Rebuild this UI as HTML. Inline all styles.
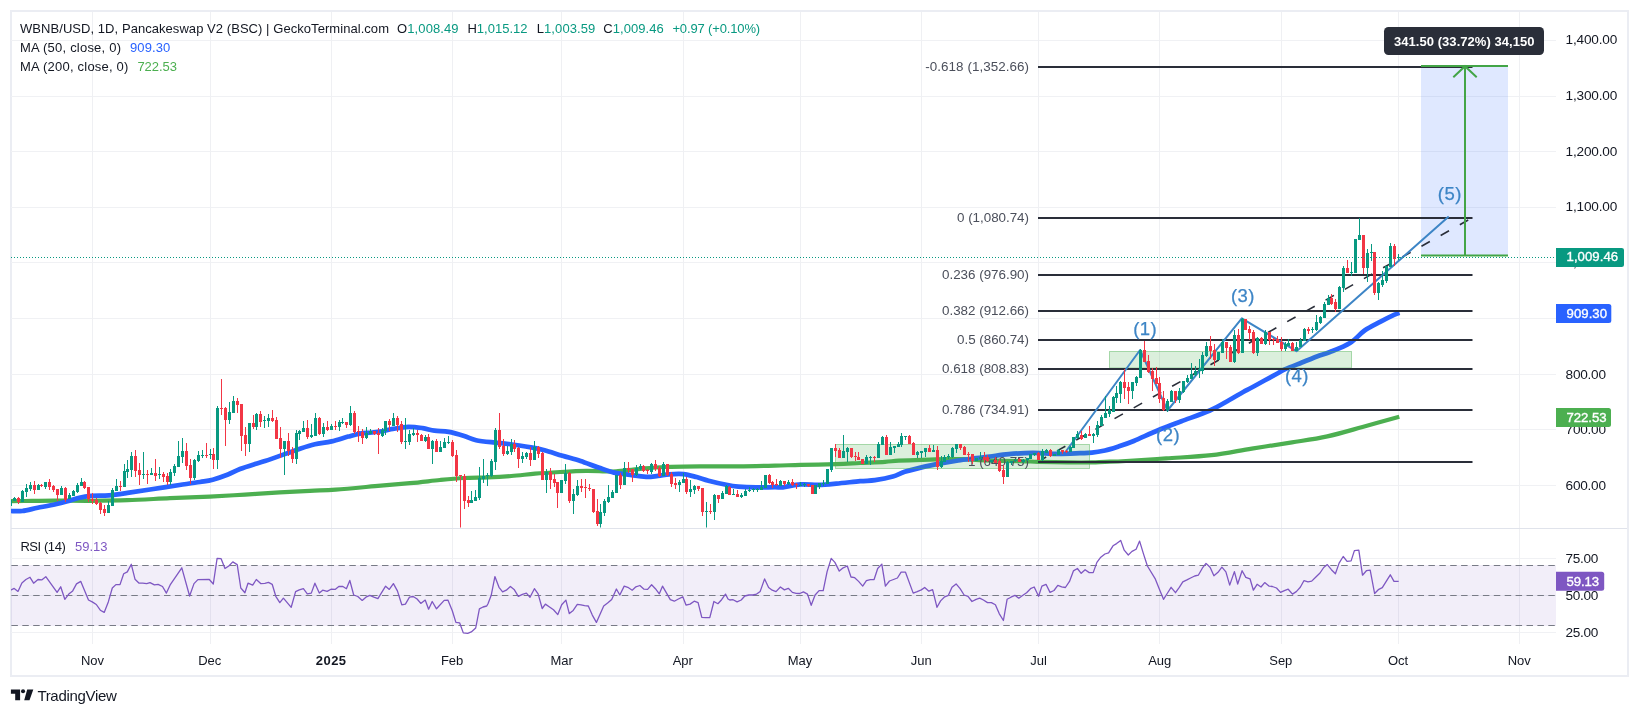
<!DOCTYPE html>
<html><head><meta charset="utf-8"><title>WBNB/USD</title>
<style>html,body{margin:0;padding:0;background:#fff}svg{will-change:transform}body{width:1639px;height:715px;overflow:hidden;font-family:'Liberation Sans', sans-serif}</style>
</head><body>
<svg width="1639" height="715" viewBox="0 0 1639 715" style="display:block;font-family:'Liberation Sans', sans-serif">
<rect width="1639" height="715" fill="#fff"/>
<rect x="11" y="11" width="1617" height="665" fill="none" stroke="#ebedf3" stroke-width="2"/>
<path d="M11 485.5H1556M11 429.5H1556M11 374.5H1556M11 318.5H1556M11 262.5H1556M11 207.5H1556M11 151.5H1556M11 96.5H1556M11 40.5H1556" stroke="#f0f1f4" stroke-width="1" fill="none"/>
<path d="M11 558.5H1556M11 595.5H1556M11 632.5H1556" stroke="#f0f1f4" stroke-width="1" fill="none"/>
<path d="M92.5 12V644M210.5 12V644M331.5 12V644M452.5 12V644M561.5 12V644M683.5 12V644M800.5 12V644M921.5 12V644M1038.5 12V644M1159.5 12V644M1281.5 12V644M1398.5 12V644M1519.5 12V644" stroke="#eff0f3" stroke-width="1" fill="none"/>
<clipPath id="rp"><rect x="11" y="528.5" width="1545" height="115.5"/></clipPath>
<g clip-path="url(#rp)">
<rect x="11" y="565" width="1545" height="61" fill="#7e57c2" fill-opacity="0.1"/>
<path d="M11.4 565.5H1556" stroke="#787b86" stroke-width="1" stroke-dasharray="6.5 4.4" fill="none"/>
<path d="M11.4 595.5H1556" stroke="#787b86" stroke-width="1" stroke-dasharray="6.5 4.4" fill="none"/>
<path d="M11.4 625.5H1556" stroke="#787b86" stroke-width="1" stroke-dasharray="6.5 4.4" fill="none"/>
<path d="M8.0 590.5 L11.2 589.9 L14.2 588.4 L18.0 591.4 L21.9 582.9 L25.9 579.5 L30.0 577.3 L33.6 583.2 L38.0 579.5 L41.7 579.9 L45.8 576.7 L57.1 592.4 L60.7 586.8 L64.8 599.3 L68.8 594.1 L72.7 590.9 L76.5 583.9 L80.8 581.4 L88.5 600.0 L92.2 601.9 L96.3 604.5 L100.3 610.2 L104.2 612.4 L108.3 601.9 L112.3 588.0 L115.9 584.6 L120.0 584.6 L123.7 573.8 L127.3 571.9 L131.3 564.3 L135.0 579.2 L139.1 583.2 L142.7 583.2 L146.7 583.6 L150.0 582.6 L154.4 584.8 L158.1 584.3 L162.5 586.5 L166.4 593.1 L170.5 584.3 L181.8 567.8 L189.6 596.0 L194.0 583.6 L197.9 579.6 L209.3 579.5 L213.3 584.0 L217.1 558.4 L221.1 558.7 L225.0 568.5 L228.8 566.0 L232.8 561.9 L237.2 564.6 L240.8 588.0 L244.9 592.7 L248.0 583.2 L252.7 585.1 L256.3 579.5 L260.7 583.6 L264.8 583.3 L268.5 582.4 L272.2 584.3 L275.8 596.3 L279.8 602.6 L283.4 598.2 L291.2 607.3 L295.6 591.6 L299.3 589.9 L303.4 588.7 L307.3 593.8 L311.3 593.1 L314.9 583.2 L319.3 593.1 L322.7 590.2 L327.1 591.4 L331.0 589.2 L335.1 589.4 L338.8 586.5 L342.9 586.5 L346.4 588.7 L349.8 580.4 L353.7 595.0 L357.8 596.5 L362.2 600.4 L365.9 597.2 L369.8 595.3 L373.9 597.2 L377.9 598.7 L385.6 586.2 L389.3 589.4 L393.4 583.6 L397.4 590.9 L401.8 604.8 L405.4 604.1 L409.5 597.2 L413.2 596.5 L417.1 599.0 L420.8 603.4 L425.2 600.1 L428.6 609.2 L432.2 601.5 L436.5 608.8 L444.2 600.4 L447.9 600.1 L452.3 610.7 L455.9 622.4 L459.6 622.8 L463.3 632.9 L467.7 633.4 L471.3 631.9 L475.7 628.0 L479.4 608.8 L483.0 607.0 L486.7 606.0 L488.0 603.7 L491.2 595.3 L494.9 576.6 L499.0 587.3 L502.6 591.9 L506.3 590.2 L510.4 586.5 L514.1 589.4 L518.3 596.3 L522.4 594.3 L526.4 593.1 L530.0 597.2 L534.4 588.7 L538.1 593.8 L542.2 608.5 L545.4 604.1 L549.5 607.0 L553.5 609.7 L557.8 614.6 L561.7 604.8 L565.9 600.1 L569.3 613.6 L573.2 610.4 L577.3 604.4 L581.0 604.8 L584.6 605.6 L588.3 606.0 L592.3 615.1 L596.4 622.4 L603.7 606.0 L607.6 603.1 L611.7 599.4 L616.4 589.0 L619.8 595.0 L624.2 586.1 L627.8 587.3 L632.2 590.2 L635.9 586.8 L639.9 585.5 L644.0 589.2 L647.6 589.4 L651.6 584.8 L655.4 588.7 L659.3 593.8 L662.5 586.2 L670.3 599.7 L674.3 601.2 L678.4 599.0 L682.8 596.8 L686.0 605.1 L690.1 604.1 L694.2 601.2 L698.1 602.6 L701.8 617.3 L705.7 617.7 L709.8 617.7 L713.9 601.5 L717.9 603.7 L721.6 599.7 L725.5 594.1 L728.0 599.0 L729.8 600.0 L733.1 599.7 L737.1 601.9 L741.2 600.0 L744.8 596.0 L748.9 595.0 L752.9 595.0 L756.6 594.1 L760.2 591.4 L764.6 578.9 L768.6 587.5 L772.2 590.2 L776.0 591.6 L780.4 587.0 L784.4 589.9 L788.3 588.3 L792.4 592.4 L796.1 593.4 L799.8 593.5 L803.4 591.9 L807.5 594.1 L811.2 605.3 L815.1 595.0 L819.1 590.6 L823.2 590.6 L827.1 571.6 L831.2 558.4 L834.9 562.4 L839.3 571.1 L843.2 567.8 L847.3 566.0 L851.0 577.0 L854.7 577.7 L858.6 581.4 L862.7 586.1 L866.4 580.7 L870.3 579.6 L874.1 579.5 L877.7 568.5 L881.8 564.1 L885.4 586.1 L889.5 581.0 L893.5 579.5 L897.4 578.0 L901.1 572.2 L905.5 572.2 L913.2 593.1 L917.2 591.6 L921.3 589.9 L924.7 587.5 L928.9 591.2 L932.6 589.7 L937.0 607.3 L940.6 600.9 L944.7 596.8 L948.4 595.3 L952.0 587.3 L956.1 583.9 L960.1 588.7 L964.1 595.0 L968.0 596.3 L972.0 601.5 L976.1 599.4 L979.7 598.2 L983.4 600.0 L987.5 602.6 L991.4 602.6 L995.4 604.8 L999.2 613.6 L1003.4 620.5 L1007.1 599.3 L1010.9 597.2 L1014.9 595.3 L1018.8 598.2 L1022.9 595.3 L1026.6 592.7 L1030.5 588.7 L1034.2 587.0 L1038.6 596.3 L1041.9 586.1 L1046.0 584.3 L1050.0 592.4 L1054.0 590.5 L1057.8 585.3 L1061.7 586.8 L1065.4 587.5 L1069.5 581.4 L1073.4 570.9 L1077.4 568.5 L1081.2 573.3 L1085.1 569.7 L1089.2 572.6 L1093.2 572.6 L1096.9 562.4 L1100.8 557.2 L1104.9 554.0 L1108.6 552.8 L1113.0 545.8 L1116.6 543.6 L1120.7 540.4 L1124.2 550.2 L1128.3 555.0 L1132.0 551.4 L1136.1 549.2 L1139.6 541.1 L1143.4 553.6 L1147.4 566.0 L1155.4 579.2 L1159.4 589.2 L1163.5 599.3 L1167.2 593.5 L1171.1 587.3 L1175.5 592.7 L1179.3 587.3 L1182.8 581.8 L1186.9 579.9 L1190.6 578.0 L1194.7 576.0 L1198.3 575.2 L1202.3 568.2 L1206.0 563.4 L1208.0 565.3 L1210.2 567.5 L1213.9 575.8 L1218.0 572.3 L1221.9 567.2 L1225.9 571.9 L1229.7 585.1 L1234.4 571.6 L1237.7 584.0 L1242.1 570.7 L1245.8 577.4 L1250.0 578.8 L1253.4 590.2 L1257.1 584.3 L1261.0 587.0 L1264.7 582.6 L1269.2 586.2 L1272.4 586.5 L1276.5 588.0 L1280.5 592.4 L1284.4 590.6 L1288.2 589.2 L1292.5 594.1 L1296.3 591.6 L1300.3 587.3 L1303.9 580.7 L1308.0 581.8 L1311.7 581.1 L1315.9 577.0 L1320.0 573.0 L1323.7 567.5 L1327.3 564.6 L1331.4 569.7 L1335.4 573.8 L1339.1 563.1 L1343.2 556.5 L1347.1 561.3 L1351.1 560.9 L1354.4 550.6 L1358.8 550.2 L1362.5 575.2 L1366.4 570.7 L1370.2 570.1 L1374.6 593.5 L1378.3 589.7 L1382.3 587.7 L1390.3 574.8 L1394.0 581.4 L1398.7 581.4" stroke="#7e57c2" stroke-width="1.3" fill="none" stroke-linejoin="round"/>
</g>
<clipPath id="mp"><rect x="11" y="12" width="1545" height="515.5"/></clipPath>
<g clip-path="url(#mp)">
<path d="M10.5 501.2C14.1 501.1 24.3 501.0 31.8 500.9C39.3 500.8 45.7 500.6 55.6 500.6C65.5 500.6 79.2 500.9 91.2 500.8C103.2 500.7 114.4 500.6 127.5 500.2C140.6 499.8 156.3 498.8 170 498.2C183.7 497.6 197.3 497.2 209.8 496.6C222.3 496.0 233.3 495.3 245 494.6C256.6 493.9 268.9 493.0 279.7 492.4C290.5 491.8 300.7 491.3 310 490.8C319.3 490.3 324.9 490.4 335.7 489.6C346.5 488.8 362.6 487.3 375 486.2C387.4 485.1 399.2 484.2 410 483.2C420.8 482.2 431.0 480.9 440 480C449.0 479.1 455.9 478.4 463.8 478C471.7 477.6 479.7 477.6 487.6 477.3C495.5 477.0 503.4 476.6 511.3 476C519.2 475.4 527.0 474.4 535.1 473.7C543.2 473.0 551.5 472.5 560 472C568.5 471.5 578.6 470.9 586.1 470.8C593.6 470.7 600.0 471.2 605 471.3C610.0 471.4 610.4 471.8 616.3 471.4C622.1 471.0 632.0 469.5 640.1 468.8C648.2 468.1 654.6 467.4 665 467C675.4 466.6 690.4 466.5 702.6 466.4C714.8 466.3 726.1 466.5 738.2 466.4C750.3 466.3 764.6 465.9 775 465.6C785.4 465.4 790.5 465.1 800.7 464.9C810.9 464.7 826.4 464.5 836.3 464.2C846.2 463.9 852.0 463.4 860.1 463C868.2 462.6 878.5 462.2 885 461.8C891.5 461.4 892.5 461.0 898.8 460.7C905.1 460.4 914.7 460.1 922.6 459.9C930.5 459.6 939.4 459.3 946.3 459.2C953.2 459.1 957.8 459.0 964.2 459.2C970.7 459.4 975.6 460.1 985 460.4C994.4 460.7 1011.8 461.0 1020.7 461.2C1029.6 461.4 1030.6 461.6 1038.5 461.8C1046.4 462.0 1059.3 462.3 1068.2 462.4C1077.1 462.5 1085.9 462.5 1092 462.4C1098.1 462.3 1099.3 462.0 1105 461.8C1110.7 461.6 1115.7 461.6 1125.9 461C1136.1 460.4 1151.9 459.4 1166.2 458.4C1180.5 457.4 1197.2 456.8 1211.5 455.2C1225.8 453.6 1238.4 450.7 1251.8 448.6C1265.2 446.5 1279.4 444.4 1292 442.4C1304.6 440.4 1315.5 439.0 1327.3 436.4C1339.0 433.8 1350.5 430.3 1362.5 427C1374.5 423.7 1393.2 418.5 1399.3 416.8" stroke="#4caf50" stroke-width="4.2" fill="none" stroke-linecap="butt" stroke-linejoin="round"/>
<path d="M10.5 511C12.5 511.0 17.8 511.5 22.3 511C26.8 510.5 32.2 508.9 37.7 507.8C43.2 506.7 50.6 505.3 55.6 504.2C60.6 503.1 63.5 502.3 67.5 501.2C71.5 500.1 75.3 498.6 79.3 497.7C83.2 496.8 86.2 496.3 91.2 495.9C96.2 495.5 103.0 495.8 109.1 495.3C115.1 494.8 120.7 493.9 127.5 492.9C134.3 491.9 141.3 490.8 150 489.5C158.7 488.2 171.2 486.2 179.5 485C187.8 483.8 194.5 482.9 200 482C205.5 481.1 208.0 480.9 212.7 479.7C217.4 478.4 223.4 476.3 228 474.5C232.6 472.7 235.5 470.8 240 469C244.5 467.2 250.8 465.3 255 464C259.2 462.7 260.8 462.4 265 461C269.2 459.6 274.6 457.7 280.5 455.6C286.4 453.5 295.0 450.4 300.7 448.5C306.4 446.6 309.8 445.5 314.9 444.3C320.0 443.1 326.1 442.7 331.6 441.4C337.2 440.1 343.4 437.9 348.2 436.6C352.9 435.3 356.1 434.3 360.1 433.6C364.1 432.9 367.9 433.0 372 432.5C376.1 432.0 381.5 431.3 385 430.7C388.5 430.1 388.9 429.5 392.8 428.9C396.7 428.3 403.3 427.0 408.3 426.9C413.3 426.8 418.2 427.5 422.6 428.1C427.0 428.7 430.1 430.1 434.5 430.7C438.9 431.3 443.8 431.0 448.7 431.9C453.6 432.8 459.6 434.6 464.2 436C468.8 437.4 471.0 439.1 476.1 440.2C481.2 441.3 489.6 442.0 495 442.6C500.4 443.2 502.5 443.2 508.8 444C515.1 444.8 526.6 446.6 532.6 447.6C538.6 448.7 539.5 448.9 544.5 450.3C549.5 451.7 556.5 454.0 562.5 455.8C568.5 457.6 574.5 459.0 580.5 461C586.5 463.0 592.9 465.7 598.5 467.6C604.1 469.5 609.0 471.4 614 472.6C619.0 473.8 622.9 474.0 628.2 474.7C633.6 475.4 641.1 476.7 646.1 476.9C651.1 477.1 654.1 476.3 658 475.9C661.9 475.5 665.0 474.6 669.3 474.3C673.5 474.0 679.0 473.6 683.5 474.1C688.0 474.6 692.4 476.0 696.6 477.1C700.8 478.2 703.5 479.4 708.5 480.7C713.5 482.0 721.3 483.8 726.3 484.8C731.2 485.8 733.2 486.2 738.2 486.6C743.2 487.0 750.0 487.3 756.1 487.4C762.2 487.5 770.5 487.2 775 487.2C779.5 487.2 778.5 487.8 782.8 487.3C787.1 486.8 794.8 484.8 800.7 484.4C806.7 484.0 812.6 484.9 818.5 484.8C824.4 484.7 829.4 484.2 836.3 483.6C843.2 483.0 853.6 481.8 860.1 481.2C866.6 480.6 869.5 481.0 875 480.2C880.5 479.4 887.8 478.0 892.8 476.6C897.8 475.2 899.7 473.4 904.7 471.8C909.7 470.2 916.7 468.5 922.6 467.1C928.5 465.7 934.5 464.6 940.4 463.5C946.3 462.4 952.2 461.4 958.2 460.5C964.2 459.6 970.8 458.9 976.1 458.2C981.4 457.5 984.5 457.2 990 456.5C995.5 455.8 1001.7 454.7 1008.8 454.1C1015.9 453.5 1024.7 452.9 1032.6 452.9C1040.5 452.8 1048.4 453.8 1056.3 453.8C1064.2 453.9 1074.1 453.4 1080.1 453.2C1086.0 453.0 1087.8 453.1 1092 452.6C1096.2 452.2 1100.8 451.4 1105 450.5C1109.2 449.6 1112.3 448.6 1117.1 447C1121.9 445.4 1127.0 443.8 1133.8 441C1140.5 438.2 1149.7 433.8 1157.6 430.5C1165.5 427.2 1172.7 424.6 1181.4 421.3C1190.1 418.0 1202.0 414.0 1209.9 410.5C1217.8 407.0 1223.4 403.4 1228.9 400.3C1234.5 397.2 1239.2 394.2 1243.2 392C1247.2 389.8 1247.2 390.0 1252.7 387C1258.2 384.0 1271.2 376.9 1276.5 374C1281.8 371.1 1280.8 371.2 1284.8 369.4C1288.8 367.6 1294.9 365.3 1300.3 363.2C1305.7 361.1 1312.0 358.4 1316.9 356.5C1321.9 354.6 1324.5 354.2 1330 352C1335.5 349.8 1344.2 346.6 1350 343C1355.8 339.4 1359.5 334.1 1364.6 330.5C1369.7 326.9 1375.7 324.2 1380.6 321.6C1385.5 319.0 1390.8 316.4 1394 314.9C1397.2 313.4 1398.6 313.1 1399.5 312.8" stroke="#2962ff" stroke-width="4.7" fill="none" stroke-linecap="butt" stroke-linejoin="round"/>
<rect x="835.5" y="444.5" width="254" height="24" fill="#4caf50" fill-opacity="0.2" stroke="#4caf50" stroke-opacity="0.45" stroke-width="1"/>
<rect x="1109.5" y="351.5" width="242" height="16.5" fill="#4caf50" fill-opacity="0.2" stroke="#4caf50" stroke-opacity="0.45" stroke-width="1"/>
<rect x="1421" y="65" width="87" height="191" fill="#2962ff" fill-opacity="0.15"/>
<path d="M1038 67.0H1472.5" stroke="#2a2e39" stroke-width="2" fill="none"/>
<text x="1029" y="70.7" font-size="13.4" fill="#4b4f5b" text-anchor="end" textLength="103.7" lengthAdjust="spacing">-0.618 (1,352.66)</text>
<path d="M1038 218.0H1472.5" stroke="#2a2e39" stroke-width="2" fill="none"/>
<text x="1029" y="221.7" font-size="13.4" fill="#4b4f5b" text-anchor="end" textLength="72" lengthAdjust="spacing">0 (1,080.74)</text>
<path d="M1038 275.0H1472.5" stroke="#2a2e39" stroke-width="2" fill="none"/>
<text x="1029" y="278.7" font-size="13.4" fill="#4b4f5b" text-anchor="end" textLength="87" lengthAdjust="spacing">0.236 (976.90)</text>
<path d="M1038 311.0H1472.5" stroke="#2a2e39" stroke-width="2" fill="none"/>
<text x="1029" y="314.7" font-size="13.4" fill="#4b4f5b" text-anchor="end" textLength="87" lengthAdjust="spacing">0.382 (912.66)</text>
<path d="M1038 340.0H1472.5" stroke="#2a2e39" stroke-width="2" fill="none"/>
<text x="1029" y="343.7" font-size="13.4" fill="#4b4f5b" text-anchor="end" textLength="72" lengthAdjust="spacing">0.5 (860.74)</text>
<path d="M1038 369.0H1472.5" stroke="#2a2e39" stroke-width="2" fill="none"/>
<text x="1029" y="372.7" font-size="13.4" fill="#4b4f5b" text-anchor="end" textLength="87" lengthAdjust="spacing">0.618 (808.83)</text>
<path d="M1038 410.0H1472.5" stroke="#2a2e39" stroke-width="2" fill="none"/>
<text x="1029" y="413.7" font-size="13.4" fill="#4b4f5b" text-anchor="end" textLength="87" lengthAdjust="spacing">0.786 (734.91)</text>
<path d="M1038 462.0H1472.5" stroke="#2a2e39" stroke-width="2" fill="none"/>
<text x="1029" y="465.7" font-size="13.4" fill="#4b4f5b" text-anchor="end" textLength="61" lengthAdjust="spacing">1 (640.75)</text>
<path d="M1043.3 458.6L1469.5 219.3" stroke="#2a2e39" stroke-width="1.6" stroke-dasharray="9.6 12.4" stroke-dashoffset="6.3" fill="none"/>
<path d="M1065.8 451.5L1140.1 350L1167.5 410.5L1241.8 318.3L1296.5 351.2L1448.7 216.6" stroke="#3d85c6" stroke-width="2" fill="none" stroke-linejoin="round"/>
<path d="M1421 66H1508M1421 255.4H1508" stroke="#43a547" stroke-width="2" fill="none"/>
<path d="M1465 255V66.5M1453.3 77.3L1465 66.2L1476.7 77.3" stroke="#43a547" stroke-width="2" fill="none"/>
<path d="M10.5 500V507M14.5 497V501M22.5 490V502M26.5 484V497M30.5 482V491M38.5 484V490M45.5 482V489M61.5 486V495M69.5 493V499M73.5 490V496M77.5 483V493M81.5 478V486M108.5 501V513M112.5 488V506M116.5 479V491M124.5 464V487M127.5 460V478M131.5 452V477M143.5 452V479M151.5 468V475M159.5 467V479M170.5 469V485M174.5 464V476M178.5 441V467M182.5 438V463M194.5 459V480M198.5 451V462M202.5 450V458M210.5 449V459M217.5 406V469M229.5 402V424M233.5 396V413M249.5 423V452M256.5 413V430M264.5 416V428M268.5 414V427M284.5 441V475M296.5 430V464M299.5 430V440M303.5 421V432M311.5 424V438M315.5 413V436M323.5 423V437M331.5 424V430M339.5 420V431M342.5 418V424M350.5 406V426M366.5 427V439M370.5 429V434M382.5 428V437M385.5 421V435M393.5 413V426M405.5 418V449M409.5 430V445M413.5 428V436M425.5 435V442M432.5 440V464M440.5 441V452M444.5 438V448M448.5 436V444M471.5 491V503M475.5 490V501M479.5 467V500M483.5 459V483M487.5 473V486M491.5 459V477M495.5 428V470M507.5 446V455M511.5 439V455M522.5 452V463M526.5 452V459M534.5 441V460M546.5 469V493M561.5 480V493M565.5 464V484M573.5 489V514M577.5 480V496M600.5 504V528M604.5 499V516M608.5 485V503M612.5 490V498M616.5 475V493M624.5 462V485M636.5 465V476M640.5 464V470M651.5 463V474M663.5 462V476M679.5 480V492M683.5 473V483M690.5 480V497M694.5 485V494M706.5 502V528M714.5 494V520M722.5 491V499M726.5 485V494M733.5 489V495M741.5 493V498M745.5 489V496M749.5 487V492M753.5 488V492M757.5 488V492M761.5 481V490M765.5 475V488M780.5 480V486M788.5 480V485M800.5 482V486M804.5 483V487M815.5 485V494M819.5 483V489M823.5 480V486M827.5 469V484M831.5 448V472M843.5 435V458M847.5 447V462M866.5 455V464M870.5 456V465M878.5 442V458M882.5 436V445M890.5 442V455M894.5 446V453M898.5 442V447M901.5 433V447M905.5 436V440M917.5 451V458M921.5 451V458M925.5 448V457M933.5 445V452M941.5 456V468M944.5 455V462M948.5 454V459M952.5 447V458M956.5 444V453M976.5 458V461M980.5 452V459M991.5 460V463M1007.5 461V477M1011.5 461V465M1015.5 459V462M1023.5 459V463M1027.5 458V461M1030.5 454V459M1034.5 453V456M1042.5 449V461M1046.5 449V453M1054.5 454V456M1058.5 449V455M1070.5 446V452M1073.5 437V448M1077.5 431V439M1085.5 433V438M1093.5 433V443M1097.5 421V437M1101.5 415V426M1105.5 396V418M1109.5 406V417M1113.5 396V412M1116.5 386V403M1120.5 381V403M1132.5 382V399M1136.5 376V386M1140.5 349V378M1167.5 399V412M1171.5 390V402M1179.5 388V403M1183.5 381V393M1187.5 375V383M1191.5 363V379M1195.5 366V376M1199.5 359V378M1202.5 352V374M1206.5 342V357M1218.5 352V360M1222.5 339V353M1234.5 330V363M1242.5 318V353M1257.5 337V356M1265.5 330V345M1285.5 342V351M1288.5 339V346M1296.5 342V351M1300.5 338V347M1304.5 328V341M1312.5 327V333M1316.5 315V331M1320.5 316V324M1324.5 302V318M1328.5 295V305M1339.5 286V309M1343.5 266V292M1351.5 262V276M1355.5 239V273M1359.5 218V240M1367.5 249V282M1371.5 244V261M1378.5 282V300M1382.5 271V287M1386.5 266V283M1390.5 243V267M1398.5 254V260" stroke="#089981" stroke-width="1" fill="none" shape-rendering="crispEdges"/>
<path d="M18.5 497V504M34.5 481V494M41.5 484V487M49.5 479V490M53.5 485V492M57.5 489V501M65.5 487V502M84.5 481V489M88.5 487V502M92.5 493V504M96.5 498V505M100.5 502V514M104.5 505V516M120.5 481V491M135.5 450V477M139.5 463V485M147.5 470V484M155.5 459V481M163.5 472V482M167.5 473V485M186.5 443V470M190.5 459V484M206.5 443V458M213.5 448V469M221.5 379V415M225.5 407V446M237.5 398V413M241.5 404V451M245.5 427V456M253.5 415V429M260.5 411V427M272.5 410V422M276.5 417V439M280.5 427V458M288.5 433V456M292.5 447V463M307.5 420V439M319.5 417V435M327.5 421V431M335.5 421V430M346.5 422V428M354.5 411V434M358.5 426V442M362.5 429V444M374.5 431V435M378.5 428V454M389.5 419V431M397.5 416V432M401.5 421V444M417.5 430V442M421.5 434V441M428.5 434V449M436.5 439V452M452.5 440V457M456.5 450V482M460.5 475V528M464.5 474V509M468.5 496V507M499.5 413V449M503.5 439V456M514.5 440V452M518.5 447V468M530.5 447V466M538.5 446V458M542.5 452V480M550.5 468V489M554.5 474V487M557.5 482V508M569.5 472V503M581.5 479V492M585.5 479V498M589.5 484V491M593.5 489V513M597.5 499V526M620.5 473V489M628.5 462V473M632.5 469V482M643.5 465V472M647.5 469V474M655.5 460V471M659.5 466V477M667.5 464V476M671.5 472V487M675.5 478V489M686.5 477V494M698.5 486V491M702.5 488V516M710.5 504V514M718.5 495V503M729.5 486V495M737.5 490V497M769.5 474V484M772.5 481V488M776.5 479V486M784.5 481V486M792.5 479V486M796.5 483V489M808.5 484V487M812.5 485V494M835.5 444V457M839.5 448V458M851.5 448V458M855.5 452V461M858.5 452V460M862.5 459V464M874.5 456V462M886.5 435V455M909.5 435V444M913.5 442V455M929.5 445V452M937.5 446V470M960.5 444V450M964.5 446V455M968.5 452V462M972.5 454V464M984.5 452V463M987.5 455V462M995.5 457V463M999.5 459V472M1003.5 465V484M1019.5 458V462M1038.5 452V460M1050.5 449V457M1062.5 450V454M1066.5 450V453M1081.5 431V440M1089.5 426V436M1124.5 369V399M1128.5 382V404M1144.5 341V362M1148.5 355V373M1152.5 368V391M1156.5 367V384M1159.5 377V403M1163.5 391V411M1175.5 391V403M1210.5 336V359M1214.5 344V366M1226.5 342V359M1230.5 345V362M1238.5 329V354M1245.5 319V330M1249.5 326V340M1253.5 330V354M1261.5 337V344M1269.5 332V345M1273.5 338V345M1277.5 336V343M1281.5 337V351M1292.5 342V351M1308.5 327V334M1331.5 294V305M1335.5 299V312M1347.5 260V273M1363.5 235V274M1374.5 252V295M1394.5 244V266" stroke="#f23645" stroke-width="1" fill="none" shape-rendering="crispEdges"/>
<path d="M9 500h3v6h-3zM13 498h3v3h-3zM21 491h3v11h-3zM25 488h3v4h-3zM29 485h3v4h-3zM37 485h3v5h-3zM44 482h3v5h-3zM60 488h3v7h-3zM68 495h3v4h-3zM72 491h3v5h-3zM76 485h3v7h-3zM80 482h3v4h-3zM107 505h3v8h-3zM111 490h3v16h-3zM115 486h3v5h-3zM123 471h3v16h-3zM126 469h3v3h-3zM130 456h3v14h-3zM142 474h3v1h-3zM150 473h3v2h-3zM158 474h3v1h-3zM169 472h3v10h-3zM173 466h3v7h-3zM177 456h3v11h-3zM181 451h3v6h-3zM193 460h3v18h-3zM197 455h3v6h-3zM201 455h3v1h-3zM209 454h3v1h-3zM216 408h3v52h-3zM228 412h3v8h-3zM232 401h3v12h-3zM248 423h3v21h-3zM255 414h3v13h-3zM263 420h3v1h-3zM267 418h3v3h-3zM283 441h3v8h-3zM295 433h3v26h-3zM298 431h3v3h-3zM302 428h3v4h-3zM310 435h3v2h-3zM314 418h3v18h-3zM322 427h3v7h-3zM330 426h3v4h-3zM338 422h3v5h-3zM341 422h3v1h-3zM349 413h3v12h-3zM365 433h3v5h-3zM369 431h3v3h-3zM381 430h3v6h-3zM384 421h3v10h-3zM392 418h3v8h-3zM404 441h3v1h-3zM408 434h3v8h-3zM412 433h3v2h-3zM424 437h3v4h-3zM431 441h3v8h-3zM439 447h3v5h-3zM443 442h3v6h-3zM447 442h3v1h-3zM470 500h3v3h-3zM474 497h3v4h-3zM478 478h3v20h-3zM482 476h3v3h-3zM486 475h3v1h-3zM490 461h3v15h-3zM494 430h3v32h-3zM506 451h3v3h-3zM510 444h3v8h-3zM521 456h3v3h-3zM525 453h3v4h-3zM533 447h3v13h-3zM545 472h3v8h-3zM560 480h3v13h-3zM564 473h3v8h-3zM572 494h3v7h-3zM576 486h3v9h-3zM599 512h3v12h-3zM603 501h3v12h-3zM607 497h3v5h-3zM611 492h3v6h-3zM615 475h3v18h-3zM623 468h3v17h-3zM635 468h3v7h-3zM639 466h3v3h-3zM650 464h3v8h-3zM662 464h3v12h-3zM678 482h3v3h-3zM682 479h3v4h-3zM689 489h3v3h-3zM693 486h3v4h-3zM705 511h3v1h-3zM713 495h3v17h-3zM721 493h3v6h-3zM725 486h3v8h-3zM732 494h3v1h-3zM740 495h3v2h-3zM744 491h3v5h-3zM748 490h3v1h-3zM752 489h3v1h-3zM756 489h3v1h-3zM760 487h3v3h-3zM764 475h3v13h-3zM779 481h3v5h-3zM787 482h3v2h-3zM799 485h3v1h-3zM803 484h3v1h-3zM814 485h3v9h-3zM818 483h3v4h-3zM822 483h3v1h-3zM826 469h3v15h-3zM830 448h3v22h-3zM842 451h3v7h-3zM846 448h3v4h-3zM865 457h3v7h-3zM869 457h3v1h-3zM877 444h3v14h-3zM881 437h3v8h-3zM889 447h3v8h-3zM893 446h3v2h-3zM897 444h3v3h-3zM900 436h3v9h-3zM904 436h3v1h-3zM916 452h3v3h-3zM920 451h3v2h-3zM924 448h3v4h-3zM932 450h3v2h-3zM940 461h3v6h-3zM943 457h3v5h-3zM947 456h3v1h-3zM951 448h3v9h-3zM955 444h3v5h-3zM975 458h3v3h-3zM979 457h3v2h-3zM990 460h3v2h-3zM1006 462h3v15h-3zM1010 461h3v2h-3zM1014 460h3v1h-3zM1022 460h3v2h-3zM1026 458h3v2h-3zM1029 454h3v5h-3zM1033 453h3v2h-3zM1041 451h3v9h-3zM1045 450h3v3h-3zM1053 454h3v2h-3zM1057 450h3v5h-3zM1069 447h3v5h-3zM1072 437h3v11h-3zM1076 434h3v4h-3zM1084 434h3v4h-3zM1092 434h3v2h-3zM1096 425h3v10h-3zM1100 417h3v9h-3zM1104 413h3v5h-3zM1108 410h3v4h-3zM1112 397h3v15h-3zM1115 393h3v5h-3zM1119 382h3v12h-3zM1131 382h3v9h-3zM1135 377h3v6h-3zM1139 350h3v28h-3zM1166 401h3v9h-3zM1170 391h3v11h-3zM1178 391h3v9h-3zM1182 381h3v11h-3zM1186 378h3v4h-3zM1190 374h3v5h-3zM1194 371h3v4h-3zM1198 369h3v2h-3zM1201 355h3v16h-3zM1205 346h3v10h-3zM1217 352h3v8h-3zM1221 342h3v11h-3zM1233 335h3v27h-3zM1241 319h3v34h-3zM1256 338h3v15h-3zM1264 332h3v12h-3zM1284 344h3v5h-3zM1287 343h3v3h-3zM1295 347h3v4h-3zM1299 340h3v7h-3zM1303 329h3v12h-3zM1311 329h3v1h-3zM1315 322h3v8h-3zM1319 317h3v6h-3zM1323 304h3v14h-3zM1327 298h3v7h-3zM1338 287h3v22h-3zM1342 268h3v20h-3zM1350 272h3v1h-3zM1354 239h3v34h-3zM1358 235h3v5h-3zM1366 253h3v15h-3zM1370 252h3v1h-3zM1377 283h3v10h-3zM1381 280h3v5h-3zM1385 266h3v15h-3zM1389 246h3v21h-3zM1397 257h3v1h-3z" fill="#089981" shape-rendering="crispEdges"/>
<path d="M17 498h3v4h-3zM33 485h3v5h-3zM40 485h3v1h-3zM48 482h3v5h-3zM52 486h3v4h-3zM56 489h3v6h-3zM64 488h3v12h-3zM83 482h3v6h-3zM87 487h3v12h-3zM91 499h3v2h-3zM95 500h3v4h-3zM99 503h3v7h-3zM103 509h3v4h-3zM119 486h3v1h-3zM134 456h3v15h-3zM138 470h3v5h-3zM146 474h3v1h-3zM154 473h3v3h-3zM162 474h3v3h-3zM166 476h3v6h-3zM185 451h3v15h-3zM189 465h3v13h-3zM205 455h3v1h-3zM212 454h3v6h-3zM220 408h3v1h-3zM224 408h3v12h-3zM236 401h3v4h-3zM240 404h3v32h-3zM244 435h3v9h-3zM252 423h3v4h-3zM259 414h3v8h-3zM271 418h3v3h-3zM275 420h3v19h-3zM279 438h3v11h-3zM287 441h3v10h-3zM291 450h3v9h-3zM306 428h3v9h-3zM318 418h3v16h-3zM326 427h3v3h-3zM334 426h3v1h-3zM345 422h3v3h-3zM353 413h3v19h-3zM357 431h3v1h-3zM361 432h3v6h-3zM373 431h3v3h-3zM377 433h3v2h-3zM388 421h3v4h-3zM396 418h3v7h-3zM400 424h3v18h-3zM416 433h3v2h-3zM420 435h3v6h-3zM427 437h3v12h-3zM435 441h3v11h-3zM451 442h3v14h-3zM455 455h3v21h-3zM459 475h3v1h-3zM463 476h3v25h-3zM467 500h3v3h-3zM498 430h3v17h-3zM502 446h3v8h-3zM513 444h3v5h-3zM517 448h3v11h-3zM529 453h3v7h-3zM537 447h3v7h-3zM541 453h3v27h-3zM549 472h3v8h-3zM553 479h3v4h-3zM556 482h3v11h-3zM568 473h3v28h-3zM580 486h3v2h-3zM584 487h3v1h-3zM588 488h3v1h-3zM592 489h3v23h-3zM596 511h3v13h-3zM619 475h3v10h-3zM627 468h3v2h-3zM631 469h3v6h-3zM642 466h3v5h-3zM646 470h3v1h-3zM654 464h3v5h-3zM658 468h3v8h-3zM666 464h3v11h-3zM670 474h3v10h-3zM674 483h3v2h-3zM685 479h3v13h-3zM697 486h3v3h-3zM701 488h3v24h-3zM709 511h3v1h-3zM717 495h3v4h-3zM728 487h3v8h-3zM736 494h3v3h-3zM768 475h3v8h-3zM771 482h3v3h-3zM775 484h3v1h-3zM783 481h3v3h-3zM791 482h3v3h-3zM795 484h3v1h-3zM807 484h3v2h-3zM811 485h3v9h-3zM834 448h3v3h-3zM838 450h3v8h-3zM850 448h3v9h-3zM854 456h3v1h-3zM857 457h3v3h-3zM861 459h3v5h-3zM873 457h3v1h-3zM885 437h3v18h-3zM908 436h3v8h-3zM912 443h3v12h-3zM928 448h3v4h-3zM936 450h3v17h-3zM959 444h3v4h-3zM963 447h3v8h-3zM967 454h3v1h-3zM971 454h3v7h-3zM983 457h3v3h-3zM986 457h3v4h-3zM994 460h3v3h-3zM998 461h3v10h-3zM1002 470h3v7h-3zM1018 459h3v3h-3zM1037 453h3v7h-3zM1049 450h3v6h-3zM1061 450h3v2h-3zM1065 451h3v1h-3zM1080 435h3v4h-3zM1088 434h3v2h-3zM1123 382h3v6h-3zM1127 387h3v4h-3zM1143 350h3v12h-3zM1147 361h3v11h-3zM1151 371h3v8h-3zM1155 378h3v6h-3zM1158 383h3v16h-3zM1162 398h3v12h-3zM1174 391h3v9h-3zM1209 346h3v5h-3zM1213 350h3v10h-3zM1225 342h3v6h-3zM1229 347h3v15h-3zM1237 335h3v18h-3zM1244 319h3v11h-3zM1248 329h3v4h-3zM1252 332h3v21h-3zM1260 338h3v6h-3zM1268 332h3v8h-3zM1272 339h3v1h-3zM1276 339h3v4h-3zM1280 342h3v7h-3zM1291 343h3v8h-3zM1307 329h3v2h-3zM1330 298h3v6h-3zM1334 302h3v7h-3zM1346 268h3v5h-3zM1362 235h3v33h-3zM1373 252h3v41h-3zM1393 246h3v13h-3z" fill="#f23645" shape-rendering="crispEdges"/>
<text x="1145" y="335.0" font-size="18.5" fill="#3d85c6" stroke="#3d85c6" stroke-width="0.25" text-anchor="middle" textLength="23.5" lengthAdjust="spacing">(1)</text>
<text x="1167.8" y="441.0" font-size="18.5" fill="#3d85c6" stroke="#3d85c6" stroke-width="0.25" text-anchor="middle" textLength="23.5" lengthAdjust="spacing">(2)</text>
<text x="1242.7" y="301.8" font-size="18.5" fill="#3d85c6" stroke="#3d85c6" stroke-width="0.25" text-anchor="middle" textLength="23.5" lengthAdjust="spacing">(3)</text>
<text x="1296.7" y="381.5" font-size="18.5" fill="#3d85c6" stroke="#3d85c6" stroke-width="0.25" text-anchor="middle" textLength="23.5" lengthAdjust="spacing">(4)</text>
<text x="1449.6" y="199.6" font-size="18.5" fill="#3d85c6" stroke="#3d85c6" stroke-width="0.25" text-anchor="middle" textLength="23.5" lengthAdjust="spacing">(5)</text>
<path d="M11 257.5H1556" stroke="#089981" stroke-width="1" stroke-dasharray="1 2" fill="none"/>
</g>
<rect x="11" y="528" width="1616" height="1" fill="#e0e3eb"/>
<text x="20" y="32.5" font-size="13" fill="#131722" textLength="369" lengthAdjust="spacing">WBNB/USD, 1D, Pancakeswap V2 (BSC) | GeckoTerminal.com</text>
<text x="397" y="32.5" font-size="13" textLength="61.6" lengthAdjust="spacing"><tspan fill="#131722">O</tspan><tspan fill="#089981">1,008.49</tspan></text>
<text x="467.4" y="32.5" font-size="13" textLength="60.2" lengthAdjust="spacing"><tspan fill="#131722">H</tspan><tspan fill="#089981">1,015.12</tspan></text>
<text x="536.7" y="32.5" font-size="13" textLength="58.6" lengthAdjust="spacing"><tspan fill="#131722">L</tspan><tspan fill="#089981">1,003.59</tspan></text>
<text x="603.3" y="32.5" font-size="13" textLength="60.5" lengthAdjust="spacing"><tspan fill="#131722">C</tspan><tspan fill="#089981">1,009.46</tspan></text>
<text x="672.4" y="32.5" font-size="13" fill="#089981" textLength="87.8" lengthAdjust="spacing">+0.97 (+0.10%)</text>
<text x="20" y="51.6" font-size="13" fill="#131722" textLength="101" lengthAdjust="spacing">MA (50, close, 0)</text>
<text x="130" y="51.6" font-size="13" fill="#2962ff" textLength="40.3" lengthAdjust="spacing">909.30</text>
<text x="20" y="70.6" font-size="13" fill="#131722" textLength="108.4" lengthAdjust="spacing">MA (200, close, 0)</text>
<text x="137.4" y="70.6" font-size="13" fill="#4caf50" textLength="39.6" lengthAdjust="spacing">722.53</text>
<text x="20.4" y="550.6" font-size="13" fill="#131722" textLength="45.4" lengthAdjust="spacing">RSI (14)</text>
<text x="74.9" y="550.6" font-size="13" fill="#7e57c2" textLength="32.7" lengthAdjust="spacing">59.13</text>
<text x="1565.6" y="490.1" font-size="13.6" fill="#131722" textLength="40.4" lengthAdjust="spacing">600.00</text>
<text x="1565.6" y="434.3" font-size="13.6" fill="#131722" textLength="40.4" lengthAdjust="spacing">700.00</text>
<text x="1565.6" y="378.6" font-size="13.6" fill="#131722" textLength="40.4" lengthAdjust="spacing">800.00</text>
<text x="1565.6" y="322.8" font-size="13.6" fill="#131722" textLength="40.4" lengthAdjust="spacing">900.00</text>
<text x="1565.6" y="267.1" font-size="13.6" fill="#131722" textLength="51.7" lengthAdjust="spacing">1,000.00</text>
<text x="1565.6" y="211.3" font-size="13.6" fill="#131722" textLength="51.7" lengthAdjust="spacing">1,100.00</text>
<text x="1565.6" y="155.6" font-size="13.6" fill="#131722" textLength="51.7" lengthAdjust="spacing">1,200.00</text>
<text x="1565.6" y="99.8" font-size="13.6" fill="#131722" textLength="51.7" lengthAdjust="spacing">1,300.00</text>
<text x="1565.6" y="44.1" font-size="13.6" fill="#131722" textLength="51.7" lengthAdjust="spacing">1,400.00</text>
<text x="1565.6" y="563.0" font-size="13.6" fill="#131722" textLength="32.6" lengthAdjust="spacing">75.00</text>
<text x="1565.6" y="600.3" font-size="13.6" fill="#131722" textLength="32.6" lengthAdjust="spacing">50.00</text>
<text x="1565.6" y="637.3" font-size="13.6" fill="#131722" textLength="32.6" lengthAdjust="spacing">25.00</text>
<path d="M1556 248.0h65.5a2.5 2.5 0 0 1 2.5 2.5v14a2.5 2.5 0 0 1 -2.5 2.5h-65.5z" fill="#089981"/>
<text x="1566.5" y="261.0" font-size="13.2" fill="#fff" textLength="51.7" lengthAdjust="spacing" stroke="#fff" stroke-width="0.35">1,009.46</text>
<path d="M1556 304.0h52.8a2.5 2.5 0 0 1 2.5 2.5v14a2.5 2.5 0 0 1 -2.5 2.5h-52.8z" fill="#2962ff"/>
<text x="1566.5" y="318.2" font-size="13.2" fill="#fff" textLength="40.6" lengthAdjust="spacing" stroke="#fff" stroke-width="0.35">909.30</text>
<path d="M1556 408.0h52.5a2.5 2.5 0 0 1 2.5 2.5v14a2.5 2.5 0 0 1 -2.5 2.5h-52.5z" fill="#4caf50"/>
<text x="1566.5" y="422.2" font-size="13.2" fill="#fff" textLength="40" lengthAdjust="spacing" stroke="#fff" stroke-width="0.35">722.53</text>
<path d="M1556 571.8h45.7a2.5 2.5 0 0 1 2.5 2.5v14a2.5 2.5 0 0 1 -2.5 2.5h-45.7z" fill="#7e57c2"/>
<text x="1566.5" y="586.0" font-size="13.2" fill="#fff" textLength="32.6" lengthAdjust="spacing" stroke="#fff" stroke-width="0.35">59.13</text>
<text x="92.5" y="664.7" font-size="13" fill="#131722" text-anchor="middle">Nov</text>
<text x="209.8" y="664.7" font-size="13" fill="#131722" text-anchor="middle">Dec</text>
<text x="330.9" y="664.7" font-size="13" fill="#131722" textLength="30.4" lengthAdjust="spacing" font-weight="bold" text-anchor="middle">2025</text>
<text x="452.1" y="664.7" font-size="13" fill="#131722" text-anchor="middle">Feb</text>
<text x="561.6" y="664.7" font-size="13" fill="#131722" text-anchor="middle">Mar</text>
<text x="682.8" y="664.7" font-size="13" fill="#131722" text-anchor="middle">Apr</text>
<text x="800.0" y="664.7" font-size="13" fill="#131722" text-anchor="middle">May</text>
<text x="921.2" y="664.7" font-size="13" fill="#131722" text-anchor="middle">Jun</text>
<text x="1038.5" y="664.7" font-size="13" fill="#131722" text-anchor="middle">Jul</text>
<text x="1159.7" y="664.7" font-size="13" fill="#131722" text-anchor="middle">Aug</text>
<text x="1280.8" y="664.7" font-size="13" fill="#131722" text-anchor="middle">Sep</text>
<text x="1398.1" y="664.7" font-size="13" fill="#131722" text-anchor="middle">Oct</text>
<text x="1519.3" y="664.7" font-size="13" fill="#131722" text-anchor="middle">Nov</text>
<rect x="1384" y="27" width="160" height="28" rx="4.5" fill="#2a2e39"/>
<text x="1394" y="45.7" font-size="13" fill="#fff" textLength="140.5" lengthAdjust="spacing" font-weight="bold">341.50 (33.72%) 34,150</text>
<path d="M10.9 689.4H20.1V700.2H15.2V693.8H10.9zM27.2 689.4H33.3L29.5 700.2H24.2z" fill="#131722"/><circle cx="23.05" cy="691.25" r="2.05" fill="#131722"/>
<text x="37.4" y="700.7" font-size="15" fill="#131722" textLength="79.4" lengthAdjust="spacing">TradingView</text>
</svg>
</body></html>
